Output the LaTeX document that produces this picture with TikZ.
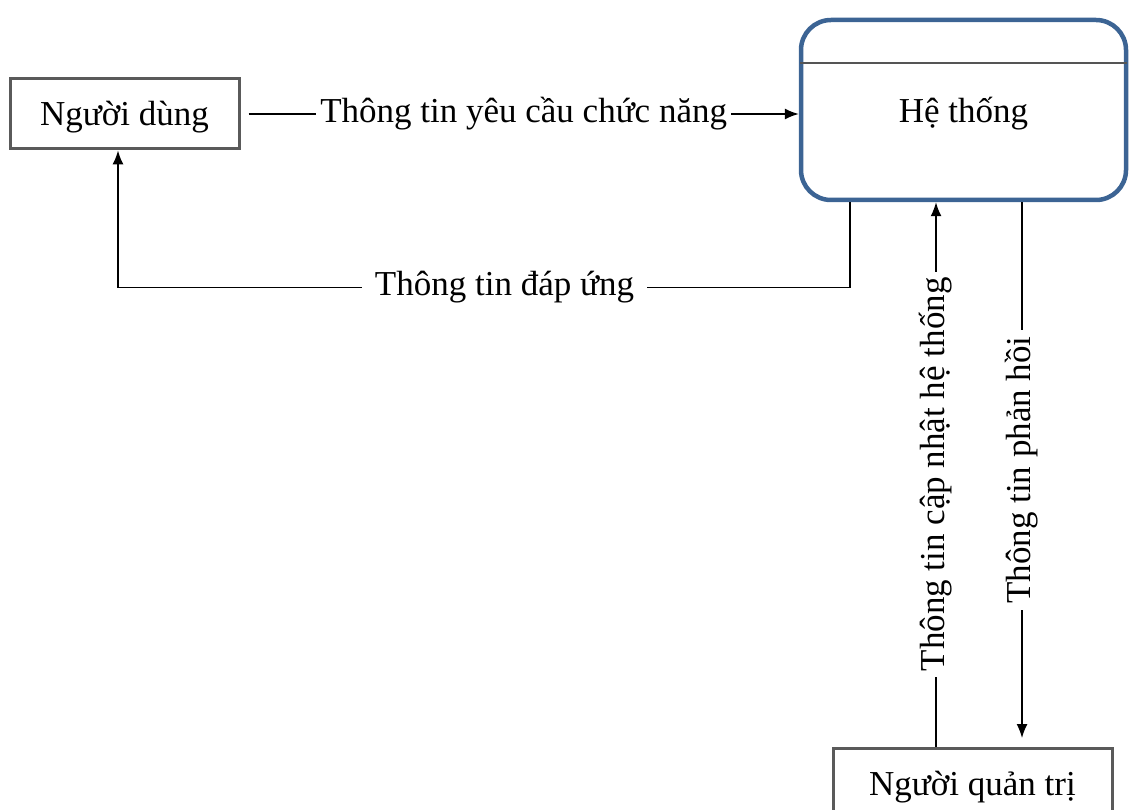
\documentclass[tikz,border=0pt]{standalone}
\usepackage{fontspec}
\setmainfont{Liberation Serif}
\usetikzlibrary{arrows.meta}
\definecolor{boxgray}{HTML}{5A5A5A}
\definecolor{sysblue}{HTML}{3C6494}
\definecolor{hdrgray}{HTML}{555555}
\begin{document}
\begin{tikzpicture}[x=1pt,y=-1pt,
  every node/.style={font=\fontsize{35}{40}\selectfont},
  ent/.style={draw=boxgray, line width=3pt, minimum width=229pt, minimum height=70pt, inner sep=0pt, text height=30pt, text depth=6pt},
  proc/.style={draw=sysblue, line width=4.5pt, rounded corners=30pt, minimum width=325pt, minimum height=180pt, inner sep=0pt, text height=32pt, text depth=6pt},
  hdr/.style={draw=hdrgray, line width=2.2pt},
  flow/.style={line width=1.4pt, -{Latex[length=14pt,width=11pt]}},
  lbl/.style={fill=white, inner xsep=4pt, inner ysep=0pt}]
\useasboundingbox (0,0) rectangle (1129,810);
\node[ent] (ud) at (124.5,114) {Người dùng};
\node[proc] (sys) at (963.5,110) {Hệ thống};
\node[ent, minimum width=279pt] (adm) at (972.5,783) {Người quản trị};
\coordinate (hy) at (0,63);
\coordinate (fbx) at (850,0);
\coordinate (lx) at (118,0);
\coordinate (ux) at (936,0);
\coordinate (dx) at (1022,0);
\coordinate (dend) at (1022,738);
\draw[hdr] ([xshift=1pt]sys.west |- hy) -- ([xshift=-1pt]sys.east |- hy);
\draw[flow] ([xshift=8pt]ud.east) -- node[lbl]{Thông tin yêu cầu chức năng} (sys.west |- ud.east);
\draw[flow] (sys.south -| fbx) -- ++(0,85) -| node[lbl, inner xsep=13pt, pos=0.236]{Thông tin đáp ứng} (ud.south -| lx);
\draw[flow] (adm.north -| ux) -- node[lbl, rotate=90, inner xsep=6pt]{Thông tin cập nhật hệ thống} (sys.south -| ux);
\draw[flow] (sys.south -| dx) -- node[lbl, rotate=90, inner xsep=6pt]{Thông tin phản hồi} (dend);
\end{tikzpicture}
\end{document}
